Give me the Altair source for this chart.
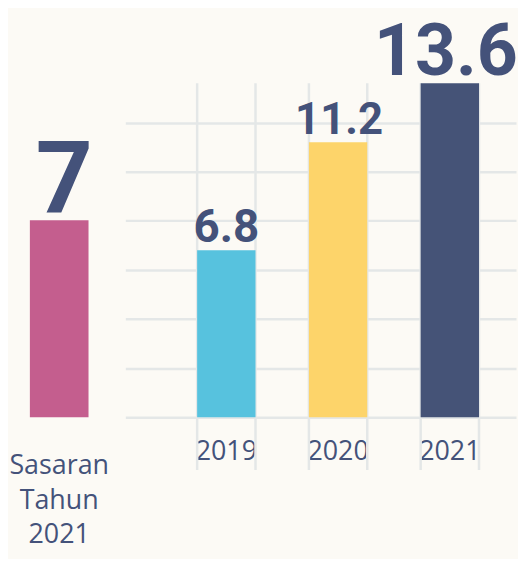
import altair as alt
import pandas as pd

# ---- data ----
target_label = ["Sasaran Tahun 2021"]
target_value = [7]
years = ["2019", "2020", "2021"]
values = [6.8, 11.2, 13.6]
bar_colors = ["#57C2DE", "#FDD46A", "#455377"]
target_color = "#C45E8E"
grid_values = [0, 2, 4, 6, 8, 10, 12]

NAVY = "#44527A"
GRID = "#E4E7E7"
NUM_FONT = "Roboto"
LABEL_FONT = "Open Sans"
H = 410
RIGHT_DOMAIN = [0, 16.6]
LEFT_DOMAIN = [0, 14.49]

left_df = pd.DataFrame({"cat": target_label, "value": target_value})
right_df = pd.DataFrame({"year": years, "value": values})

# ---- left panel: target ----
left_base = alt.Chart(left_df).encode(
    x=alt.X(
        "cat:N",
        scale=alt.Scale(paddingInner=0, paddingOuter=0),
        axis=alt.Axis(
            title=None, domain=False, ticks=False, labelAngle=0,
            labelExpr="split(datum.label, ' ')",
            labelFont=LABEL_FONT, labelFontSize=27, labelColor=NAVY,
            labelPadding=36, labelLineHeight=34.5,
        ),
    ),
    y=alt.Y("value:Q", axis=None, scale=alt.Scale(domain=LEFT_DOMAIN)),
)
left = alt.layer(
    left_base.mark_bar(width=59, color=target_color),
    left_base.mark_text(
        font=NUM_FONT, fontWeight="bold", fontSize=100, color=NAVY,
        baseline="alphabetic", dy=-8, dx=5,
    ).encode(text="value:Q"),
).properties(width=101, height=H)

# ---- right panel: yearly ----
xscale = alt.Scale(paddingInner=0.478, paddingOuter=0.487, align=0.66)
xenc = alt.X(
    "year:N", sort=years, scale=xscale,
    axis=alt.Axis(
        title=None, domain=False, ticks=False, labelAngle=0,
        labelFont=LABEL_FONT, labelFontSize=27, labelColor=NAVY,
        labelPadding=22,
    ),
)
yscale = alt.Scale(domain=RIGHT_DOMAIN)
yenc = alt.Y(
    "value:Q",
    scale=yscale,
    axis=alt.Axis(
        title=None, values=grid_values, labels=False, ticks=False,
        domain=False, grid=True, gridColor=GRID, gridWidth=2.5,
    ),
)
right_base = alt.Chart(right_df).encode(x=xenc, y=yenc)

rules = []
for bp in (0, 1):
    rules.append(
        alt.Chart(right_df)
        .transform_joinaggregate(top="max(value)")
        .mark_rule(color=GRID, strokeWidth=2.5)
        .encode(
            x=alt.X("year:N", sort=years, bandPosition=bp, scale=xscale),
            y=alt.Y("top:Q", scale=yscale),
            y2=alt.datum(-2.15),
        )
    )

bars = right_base.mark_bar().encode(
    color=alt.Color("year:N", scale=alt.Scale(domain=years, range=bar_colors), legend=None)
)

label_style = {"2019": (46, 0), "2020": (44, 1), "2021": (72, -4)}
texts = []
for yr in years:
    fs, dx = label_style[yr]
    texts.append(
        right_base.transform_filter(alt.datum.year == yr)
        .mark_text(
            font=NUM_FONT, fontWeight="bold", fontSize=fs, dx=dx,
            color=NAVY, baseline="alphabetic", dy=-8,
        )
        .encode(text="value:Q")
    )

right = alt.layer(right_base.mark_bar(opacity=0), *rules, bars, *texts).properties(
    width=393, height=H
)

chart = (
    alt.hconcat(
        left, right, spacing=16, bounds="flush",
        padding={"left": 0, "top": 0, "right": 0, "bottom": 10},
    )
    .resolve_scale(y="independent", x="independent", color="independent")
    .configure(background="#FCFAF5")
    .configure_view(stroke=None)
)

chart.save("out.html", embed_options={"renderer": "svg", "actions": False})
